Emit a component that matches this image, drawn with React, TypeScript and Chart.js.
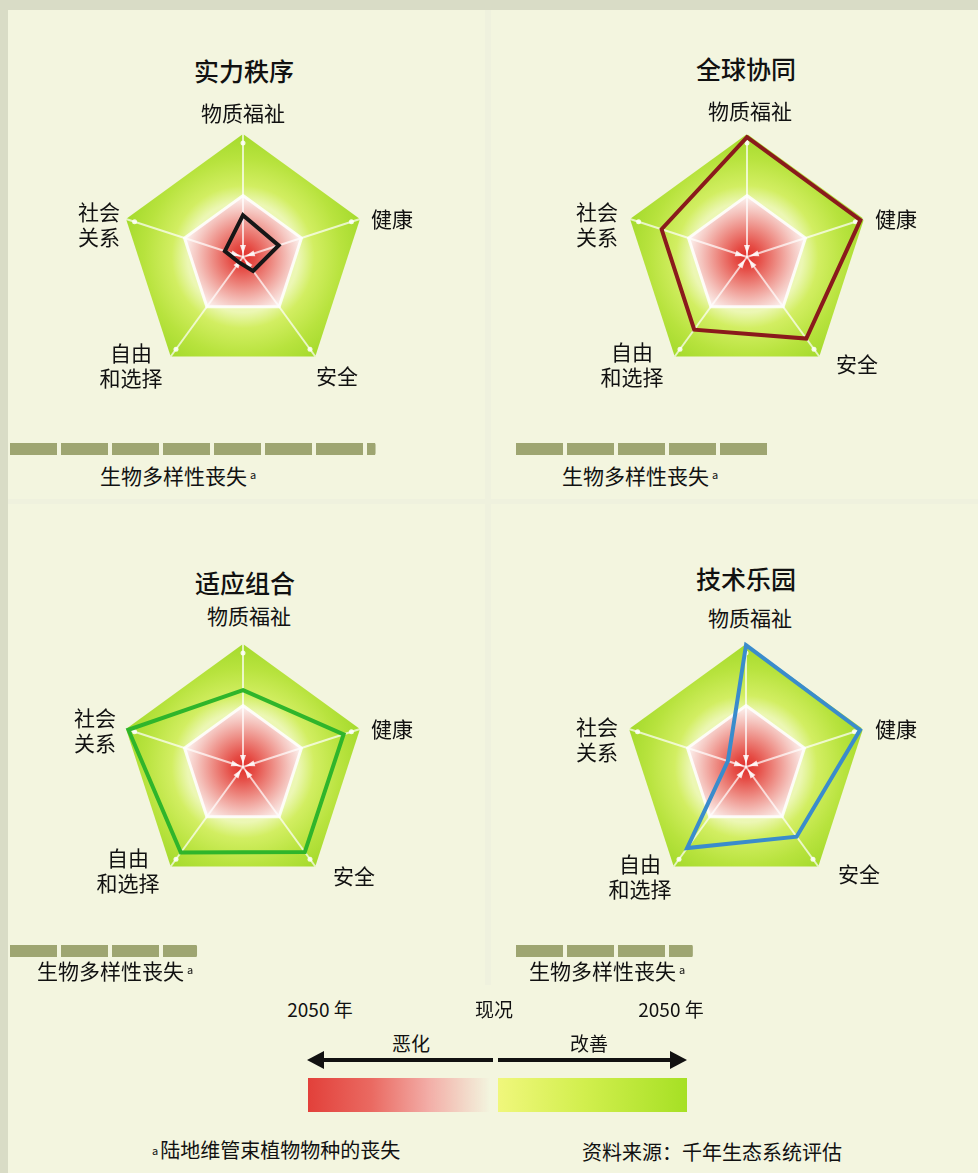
import React, { useEffect, useRef } from 'react';
import { Chart, registerables } from 'chart.js';

Chart.register(...registerables);

// ---------- data ----------
const AXIS_LABELS = ['物质福祉', '健康', '安全', '自由和选择', '社会关系'];
const AXIS_LABEL_LINES = [['物质福祉'], ['健康'], ['安全'], ['自由', '和选择'], ['社会', '关系']];
const SCENARIO_TITLES = ['实力秩序', '全球协同', '适应组合', '技术乐园'];
// scale: -1 = 2050 worse, 0 = current state, 1 = 2050 better
const ORDER_FROM_STRENGTH = [-0.32, -0.39, -0.72, -0.89, -0.69];
const GLOBAL_ORCHESTRATION = [0.95, 0.94, 0.64, 0.46, 0.46];
const ADAPTING_MOSAIC = [0.25, 0.72, 0.71, 0.72, 0.96];
const TECHNOGARDEN = [0.98, 0.95, 0.4, 0.63, -0.69];
const BIODIVERSITY_LOSS = [7.2, 5.0, 3.7, 3.5];
const BIODIVERSITY_LABEL = '生物多样性丧失';
const SCALE_MIN = -1;
const SCALE_MAX = 1;
const BAR_AXIS_MAX = 8;
const LEGEND_TOP_LABELS = ['2050 年', '现况', '2050 年'];
const LEGEND_DIRECTION_LABELS = ['恶化', '改善'];
const FOOTNOTE = '陆地维管束植物物种的丧失';
const SOURCE = '资料来源：千年生态系统评估';

const SERIES = [ORDER_FROM_STRENGTH, GLOBAL_ORCHESTRATION, ADAPTING_MOSAIC, TECHNOGARDEN];

// ---------- layout / style ----------
const FONT = "'Noto Sans CJK SC', 'Noto Sans', sans-serif";
const PAGE_BG = '#d9dcc6';
const PANEL_BG = '#f3f5df';
const BAR_COLOR = '#9ea571';
const RADIUS = 123;
const PAD = 12;
const SIZE = (RADIUS + PAD) * 2;
const UNIT = 51;

const PANELS = [
  {
    color: '#161616', cx: 243, cy: 257, title: [244, 70],
    labels: [[243, 112], [392, 218], [337, 375], [131, 365], [99, 224]],
    bar: [8, 443], bioText: [100, 475],
  },
  {
    color: '#8a1a1c', cx: 747, cy: 257, title: [746, 68],
    labels: [[750, 110], [896, 218], [857, 363], [632, 364], [597, 224]],
    bar: [514, 443], bioText: [562, 475],
  },
  {
    color: '#2fb52b', cx: 243, cy: 767, title: [245, 582],
    labels: [[249, 615], [392, 728], [354, 875], [128, 870], [95, 730]],
    bar: [8, 945], bioText: [37, 970],
  },
  {
    color: '#3a8ccc', cx: 746, cy: 767, title: [746, 578],
    labels: [[750, 617], [896, 728], [859, 873], [640, 876], [597, 739]],
    bar: [514, 945], bioText: [529, 970],
  },
];

const backdropPlugin = {
  id: 'pentagonBackdrop',
  beforeDraw(chart: any) {
    const s = chart.scales.r;
    if (!s) return;
    const ctx = chart.ctx;
    const n = chart.data.labels.length;
    const cx = s.xCenter;
    const cy = s.yCenter;
    const R = s.drawingArea;
    const trace = (v: number) => {
      ctx.beginPath();
      for (let i = 0; i < n; i++) {
        const p = s.getPointPositionForValue(i, v);
        if (i === 0) ctx.moveTo(p.x, p.y);
        else ctx.lineTo(p.x, p.y);
      }
      ctx.closePath();
    };
    ctx.save();
    const g = ctx.createRadialGradient(cx, cy, 0, cx, cy, R);
    g.addColorStop(0, '#f0f8c0');
    g.addColorStop(0.45, '#ecf7b4');
    g.addColorStop(0.58, '#d2ee62');
    g.addColorStop(0.8, '#b8e33e');
    g.addColorStop(1, '#a4da2c');
    trace(s.max);
    ctx.fillStyle = g;
    ctx.fill();

    const r = ctx.createRadialGradient(cx, cy, 0, cx, cy, R * 0.47);
    r.addColorStop(0, '#e0302b');
    r.addColorStop(0.2, '#e54a43');
    r.addColorStop(0.5, '#ed8880');
    r.addColorStop(0.8, '#f5c6c0');
    r.addColorStop(1, '#fbebe7');
    trace(0);
    ctx.fillStyle = r;
    ctx.fill();

    // arrow marks at the centre and dots near outer vertices
    ctx.fillStyle = 'rgba(255,255,255,0.85)';
    for (let i = 0; i < n; i++) {
      const p = s.getPointPositionForValue(i, s.max);
      const dx = (p.x - cx) / R;
      const dy = (p.y - cy) / R;
      const nx = -dy;
      const ny = dx;
      ctx.beginPath();
      ctx.moveTo(cx + dx * 3, cy + dy * 3);
      ctx.lineTo(cx + dx * 12 + nx * 3, cy + dy * 12 + ny * 3);
      ctx.lineTo(cx + dx * 12 - nx * 3, cy + dy * 12 - ny * 3);
      ctx.closePath();
      ctx.fill();
      ctx.beginPath();
      ctx.arc(cx + dx * (R - 9), cy + dy * (R - 9), 2.5, 0, Math.PI * 2);
      ctx.fill();
    }
    ctx.restore();
  },
};

function Radar({ values, color, cx, cy }: { values: number[]; color: string; cx: number; cy: number }) {
  const ref = useRef<HTMLCanvasElement | null>(null);
  useEffect(() => {
    const chart = new Chart(ref.current as HTMLCanvasElement, {
      type: 'radar',
      data: {
        labels: AXIS_LABELS,
        datasets: [
          {
            data: values,
            borderColor: color,
            backgroundColor: 'rgba(0,0,0,0)',
            borderWidth: 4,
            fill: false,
            pointRadius: 0,
            borderJoinStyle: 'miter',
            tension: 0,
          },
        ],
      },
      options: {
        animation: false,
        responsive: false,
        maintainAspectRatio: false,
        layout: { padding: PAD },
        plugins: { legend: { display: false }, tooltip: { enabled: false } },
        scales: {
          r: {
            min: SCALE_MIN,
            max: SCALE_MAX,
            ticks: { display: false, stepSize: 1 },
            pointLabels: { display: false },
            grid: {
              color: (c: any) => (c.tick && c.tick.value === 0 ? 'rgba(255,255,255,0.85)' : 'rgba(0,0,0,0)'),
              lineWidth: 3,
            },
            angleLines: { color: 'rgba(255,255,255,0.7)', lineWidth: 2 },
          },
        },
      } as any,
      plugins: [backdropPlugin],
    });
    return () => chart.destroy();
  }, []);
  return (
    <canvas
      ref={ref}
      width={SIZE}
      height={SIZE}
      style={{ position: 'absolute', left: cx - SIZE / 2, top: cy - SIZE / 2, width: SIZE, height: SIZE }}
    />
  );
}

function LossBar({ value, x, y }: { value: number; x: number; y: number }) {
  const ref = useRef<HTMLCanvasElement | null>(null);
  const w = UNIT * BAR_AXIS_MAX;
  const h = 12;
  useEffect(() => {
    const chart = new Chart(ref.current as HTMLCanvasElement, {
      type: 'bar',
      data: {
        labels: [BIODIVERSITY_LABEL],
        datasets: [{ data: [value], backgroundColor: BAR_COLOR, barPercentage: 1, categoryPercentage: 1, borderRadius: 2 }],
      },
      options: {
        indexAxis: 'y',
        animation: false,
        responsive: false,
        maintainAspectRatio: false,
        layout: { padding: 0 },
        plugins: { legend: { display: false }, tooltip: { enabled: false } },
        scales: {
          x: {
            min: 0,
            max: BAR_AXIS_MAX,
            ticks: { display: false, stepSize: 1 },
            grid: { color: PANEL_BG, lineWidth: 4, drawTicks: false, z: 1 },
            border: { display: false },
          },
          y: { display: false },
        },
      } as any,
    });
    return () => chart.destroy();
  }, []);
  return (
    <canvas ref={ref} width={w} height={h} style={{ position: 'absolute', left: x, top: y, width: w, height: h }} />
  );
}

const centered = (x: number, y: number, extra: any = {}) => ({
  position: 'absolute' as const,
  left: x,
  top: y,
  transform: 'translate(-50%, -50%)',
  whiteSpace: 'nowrap' as const,
  textAlign: 'center' as const,
  ...extra,
});

export default function App() {
  return (
    <div
      style={{
        position: 'absolute',
        left: 0,
        top: 0,
        width: 978,
        height: 1173,
        background: PAGE_BG,
        overflow: 'hidden',
        fontFamily: FONT,
        color: '#111',
      }}
    >
      <div style={{ position: 'absolute', left: 8, top: 10, width: 970, height: 1163, background: PANEL_BG }} />
      <div style={{ position: 'absolute', left: 485, top: 10, width: 6, height: 975, background: '#eff1de' }} />
      <div style={{ position: 'absolute', left: 8, top: 499, width: 970, height: 5, background: '#eff1de' }} />

      {PANELS.map((p, k) => (
        <React.Fragment key={k}>
          <Radar values={SERIES[k]} color={p.color} cx={p.cx} cy={p.cy} />
          <div style={centered(p.title[0], p.title[1], { fontSize: 25, fontWeight: 500, lineHeight: '30px' })}>
            {SCENARIO_TITLES[k]}
          </div>
          {AXIS_LABEL_LINES.map((lines, i) => (
            <div key={i} style={centered(p.labels[i][0], p.labels[i][1], { fontSize: 21, lineHeight: '25px' })}>
              {lines.map((l, j) => (
                <div key={j}>{l}</div>
              ))}
            </div>
          ))}
          <LossBar value={BIODIVERSITY_LOSS[k]} x={p.bar[0]} y={p.bar[1]} />
          <div
            style={{
              position: 'absolute',
              left: p.bioText[0],
              top: p.bioText[1] - 14,
              fontSize: 21,
              lineHeight: '28px',
              whiteSpace: 'nowrap',
            }}
          >
            {BIODIVERSITY_LABEL}
            <span style={{ fontSize: 11, verticalAlign: 'top', marginLeft: 3, position: 'relative', top: -1 }}>a</span>
          </div>
        </React.Fragment>
      ))}

      {/* legend */}
      <div style={centered(320, 1008, { fontSize: 19 })}>{LEGEND_TOP_LABELS[0]}</div>
      <div style={centered(494, 1008, { fontSize: 19 })}>{LEGEND_TOP_LABELS[1]}</div>
      <div style={centered(671, 1008, { fontSize: 19 })}>{LEGEND_TOP_LABELS[2]}</div>
      <div style={centered(411, 1042, { fontSize: 19 })}>{LEGEND_DIRECTION_LABELS[0]}</div>
      <div style={centered(589, 1042, { fontSize: 19 })}>{LEGEND_DIRECTION_LABELS[1]}</div>
      <svg style={{ position: 'absolute', left: 300, top: 1045 }} width={395} height={30}>
        <line x1={20} y1={15} x2={193} y2={15} stroke="#111" strokeWidth={4} />
        <polygon points="7,15 24,6 24,24" fill="#111" />
        <line x1={198} y1={15} x2={372} y2={15} stroke="#111" strokeWidth={4} />
        <polygon points="387,15 370,6 370,24" fill="#111" />
      </svg>
      <div
        style={{
          position: 'absolute',
          left: 308,
          top: 1078,
          width: 182,
          height: 34,
          background: 'linear-gradient(to right, #e2403a 0%, #ea6a62 35%, #f2aaa4 65%, rgba(250,225,220,0) 100%)',
        }}
      />
      <div
        style={{
          position: 'absolute',
          left: 498,
          top: 1078,
          width: 189,
          height: 34,
          background: 'linear-gradient(to right, #f0f77c 0%, #d2ef4e 45%, #a6e024 100%)',
        }}
      />
      <div style={{ position: 'absolute', left: 152, top: 1136, fontSize: 20, lineHeight: '28px', whiteSpace: 'nowrap' }}>
        <span style={{ fontSize: 11, verticalAlign: 'top', marginRight: 2 }}>a</span>
        {FOOTNOTE}
      </div>
      <div style={{ position: 'absolute', left: 582, top: 1138, fontSize: 20, lineHeight: '28px', whiteSpace: 'nowrap' }}>
        {SOURCE}
      </div>
    </div>
  );
}
